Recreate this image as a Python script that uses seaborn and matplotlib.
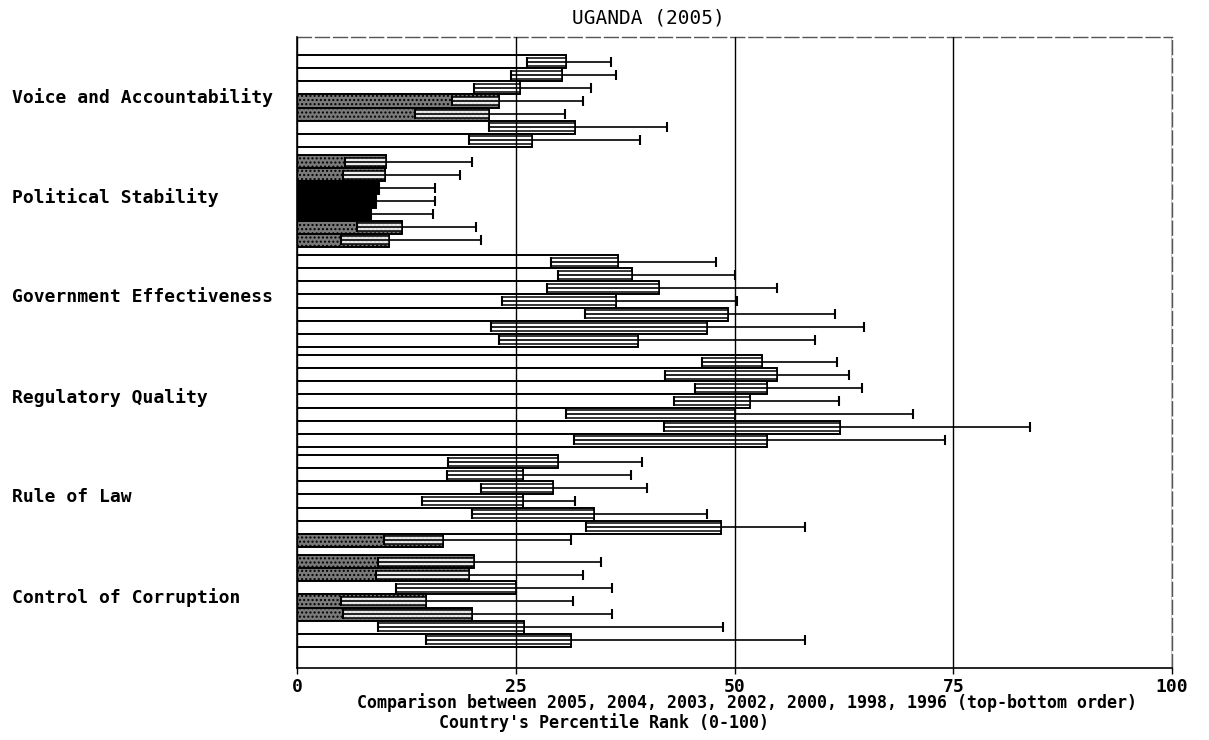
import numpy as np
import pandas as pd
import matplotlib
matplotlib.use("Agg")
import matplotlib.pyplot as plt
from matplotlib.transforms import ScaledTranslation
import seaborn as sns

# ---------------- data ----------------
indicators = ["Voice and Accountability", "Political Stability",
              "Government Effectiveness", "Regulatory Quality",
              "Rule of Law", "Control of Corruption"]
years = ["2005", "2004", "2003", "2002", "2000", "1998", "1996"]

# percentile rank (bar end)
rank_va = [30.7, 30.3, 25.5, 23.1, 21.9, 31.8, 26.8]
rank_ps = [10.2, 10.1, 9.4, 9.0, 8.4, 12.0, 10.5]
rank_ge = [36.7, 38.3, 41.4, 36.4, 49.3, 46.9, 39.0]
rank_rq = [53.1, 54.8, 53.7, 51.8, 50.1, 62.0, 53.7]
rank_rl = [29.8, 25.8, 29.2, 25.8, 33.9, 48.4, 16.7]
rank_cc = [20.2, 19.6, 25.0, 14.7, 20.0, 25.9, 31.3]

# lower bound of confidence range
low_va = [26.3, 24.4, 20.2, 17.7, 13.5, 21.9, 19.7]
low_ps = [5.5, 5.3, 9.4, 9.0, 8.4, 6.9, 5.0]
low_ge = [29.0, 29.8, 28.6, 23.4, 32.9, 22.2, 23.1]
low_rq = [46.3, 42.1, 45.5, 43.1, 30.7, 41.9, 31.6]
low_rl = [17.3, 17.1, 21.0, 14.3, 20.0, 33.0, 9.9]
low_cc = [9.3, 9.0, 11.3, 5.0, 5.3, 9.3, 14.7]

# upper bound of confidence range
up_va = [35.9, 36.5, 33.6, 32.7, 30.6, 42.3, 39.2]
up_ps = [20.0, 18.6, 15.8, 15.8, 15.5, 20.5, 21.0]
up_ge = [47.9, 50.0, 54.8, 50.3, 61.5, 64.8, 59.2]
up_rq = [61.7, 63.1, 64.6, 61.9, 70.4, 83.8, 74.1]
up_rl = [39.4, 38.2, 40.0, 31.8, 46.8, 58.1, 31.3]
up_cc = [34.7, 32.7, 36.0, 31.5, 36.0, 48.7, 58.1]

x_ticks = [0, 25, 50, 75, 100]
title = "UGANDA (2005)"
xlabel1 = "Comparison between 2005, 2004, 2003, 2002, 2000, 1998, 1996 (top-bottom order)"
xlabel2 = "Country's Percentile Rank (0-100)"

ranks = [rank_va, rank_ps, rank_ge, rank_rq, rank_rl, rank_cc]
lows = [low_va, low_ps, low_ge, low_rq, low_rl, low_cc]
ups = [up_va, up_ps, up_ge, up_rq, up_rl, up_cc]

rows = []
for ind, r, lo, up in zip(indicators, ranks, lows, ups):
    for y, a, b, c in zip(years, r, lo, up):
        rows.append(dict(indicator=ind, year=y, rank=a, lower=b, upper=c))
df = pd.DataFrame(rows)

# ---------------- style ----------------
sns.set_theme(style="white")
plt.rcParams["font.family"] = ["DejaVu Sans Mono", "DejaVu Sans"]
plt.rcParams["font.weight"] = "bold"
plt.rcParams["text.color"] = "black"
plt.rcParams["xtick.color"] = "black"
plt.rcParams["ytick.color"] = "black"
plt.rcParams["axes.labelcolor"] = "black"
plt.rcParams["hatch.linewidth"] = 1.0

fig = plt.figure(figsize=(12.09, 7.40), dpi=100)
ax = fig.add_axes([297 / 1209, 1 - 668 / 740, (1172 - 297) / 1209, (668 - 37) / 740])

sns.barplot(data=df, y="indicator", x="rank", hue="year",
            order=indicators, hue_order=years, orient="h",
            palette=["white"] * len(years), saturation=1, width=0.92,
            edgecolor="black", linewidth=1.3, errorbar=None,
            legend=False, ax=ax)

bar_patches = list(ax.patches)
for p in bar_patches:
    val = p.get_width()
    h = p.get_height()
    yc = p.get_y() + h / 2
    i = int(round(yc))
    j = int(round((yc - i + 0.46 - h / 2) / h))
    rec = df[(df.indicator == indicators[i]) & (df.year == years[j])].iloc[0]
    if val < 10:
        p.set_facecolor("black")
    elif val < 25:
        p.set_facecolor("#7a7a7a")
        p.set_hatch("....")
    else:
        p.set_facecolor("white")
    p.set_edgecolor("black")
    p.set_linewidth(1.4)
    lo, up = rec["lower"], rec["upper"]
    if val - lo > 0.05:
        ax.barh(yc, val - lo, left=lo, height=h * 0.6, color="white",
                alpha=0.85, edgecolor="none", linewidth=0, zorder=1.5)
        ax.barh(yc, val - lo, left=lo, height=h * 0.6, fill=False,
                edgecolor="black", linewidth=1.1, zorder=1.6)
    ax.errorbar(val, yc, xerr=[[val - lo], [up - val]], fmt="none",
                ecolor="black", elinewidth=1.2, capsize=3.6,
                capthick=1.5, zorder=2)

ax.set_xlim(0, 100)
ax.set_ylim(5.67, -0.64)
ax.set_xticks(x_ticks)
ax.set_xticklabels([str(t) for t in x_ticks], fontsize=13, fontweight="bold",
                   color="black")
ax.grid(axis="x", color="black", linewidth=1.0)
ax.grid(axis="y", visible=False)
ax.set_axisbelow(False)
ax.tick_params(axis="x", direction="out", length=4, width=1, color="black",
               bottom=True, pad=3)
ax.tick_params(axis="y", length=0, pad=285 * 0.72)
ax.set_yticks(range(len(indicators)))
ax.set_yticklabels(indicators, fontsize=13, fontweight="bold", color="black")
off = ScaledTranslation(0, 4 / 72, fig.dpi_scale_trans)
for lab in ax.get_yticklabels():
    lab.set_horizontalalignment("left")
    lab.set_transform(lab.get_transform() + off)
ax.set_xlabel("")
ax.set_ylabel("")
for s in ["left", "bottom"]:
    ax.spines[s].set_color("black")
    ax.spines[s].set_linewidth(1.2)
for s in ["top", "right"]:
    ax.spines[s].set_color("#555555")
    ax.spines[s].set_linewidth(1.0)
    ax.spines[s].set_linestyle((0, (10, 3)))

fig.text(648 / 1209, 1 - 18 / 740, title, ha="center", va="center",
         fontsize=14, fontweight="normal", color="black")
fig.text(747 / 1209, 1 - 703 / 740, xlabel1, ha="center", va="center",
         fontsize=12, fontweight="bold", color="black")
fig.text(604 / 1209, 1 - 723 / 740, xlabel2, ha="center", va="center",
         fontsize=12, fontweight="bold", color="black")

fig.savefig("out.png", dpi=100, facecolor="white")
